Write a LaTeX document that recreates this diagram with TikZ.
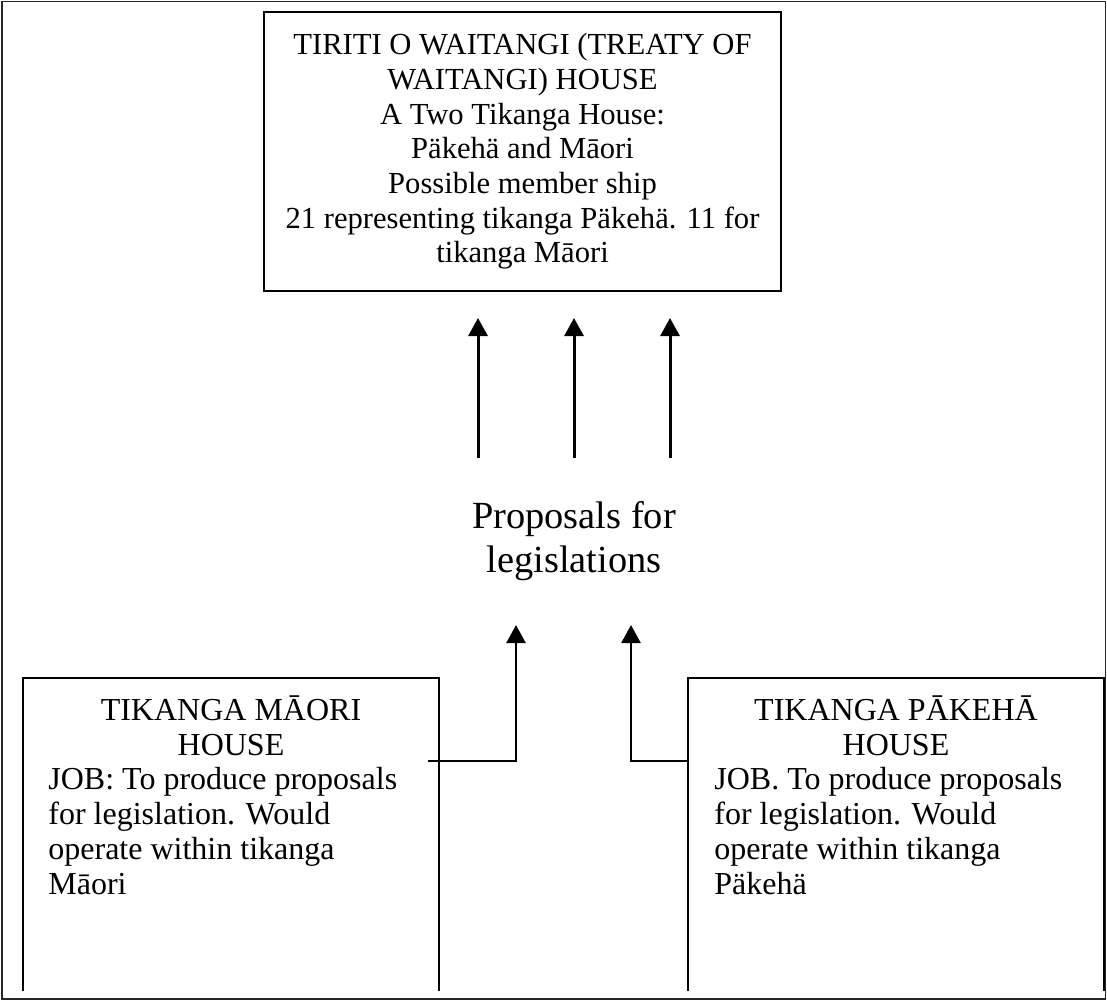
\documentclass[tikz,border=0pt]{standalone}
\usepackage{fontspec}
\setmainfont{Liberation Serif}
\usetikzlibrary{arrows.meta}
\begin{document}
\begin{tikzpicture}[x=0.5pt,y=-0.5pt,
  box/.style={draw=black,line width=1pt,inner sep=0pt,minimum width=258.5pt,minimum height=139.5pt},
  openbox/.style={inner sep=0pt,minimum width=208pt,minimum height=156.5pt},
  toptxt/.style={inner sep=0pt,font=\fontsize{15.3pt}{17.35pt}\selectfont},
  txt/.style={inner sep=0pt,font=\fontsize{16pt}{17.5pt}\selectfont},
  bigtxt/.style={inner sep=0pt,align=center,font=\fontsize{19.2pt}{21.8pt}\selectfont},
  uparrow/.style={line width=1.5pt,-{Triangle[length=9pt,width=9.5pt]}},
  elbow/.style={line width=1.2pt,-{Triangle[length=9pt,width=9.5pt]}}]
\useasboundingbox (0,0) rectangle (1107,1001);
% outer frame
\draw[line width=0.8pt,draw=black!85] (2,1.5) rectangle (1105.5,999);
% top box
\node[box,toptxt,align=center] (top) at (522.5,151.5) {TIRITI O WAITANGI (TREATY OF\\WAITANGI) HOUSE\\A Two Tikanga House:\\Päkehä and Māori\\Possible member ship\\21 representing tikanga Päkehä. 11 for\\tikanga Māori};
% proposals label
\node[bigtxt] (prop) at (574,541) {Proposals for\\legislations};
% top arrows
\coordinate (a1s) at (478,458); \coordinate (a1e) at (478,318);
\coordinate (a2s) at (574,458); \coordinate (a2e) at (574,318);
\coordinate (a3s) at (670,458); \coordinate (a3e) at (670,318);
\draw[uparrow] (a1s) -- (a1e);
\draw[uparrow] (a2s) -- (a2e);
\draw[uparrow] (a3s) -- (a3e);
% bottom boxes (open at the bottom)
\node[openbox] (lm) at (231,834.5) {};
\node[openbox] (rp) at (896,834.5) {};
\draw[line width=1pt] (lm.south west) -- (lm.north west) -- (lm.north east) -- (lm.south east);
\draw[line width=1pt] (rp.south west) -- (rp.north west) -- (rp.north east) -- (rp.south east);
\node[txt,align=center] (lmh) at (231,725.5) {TIKANGA MĀORI\\HOUSE};
\node[txt,align=left,anchor=west] (lmb) at (48,831) {JOB: To produce proposals\\for legislation. Would\\operate within tikanga\\Māori};
\node[txt,align=center] (rph) at (896,725.5) {TIKANGA PĀKEHĀ\\HOUSE};
\node[txt,align=left,anchor=west] (rpb) at (714,831) {JOB. To produce proposals\\for legislation. Would\\operate within tikanga\\Päkehä};
% elbow connectors
\coordinate (ls) at (428,761); \coordinate (le) at (516,625);
\coordinate (re) at (631,625);
\draw[elbow] (ls) -| (le);
\draw[elbow] (rp.west |- ls) -| (re);
\end{tikzpicture}
\end{document}
